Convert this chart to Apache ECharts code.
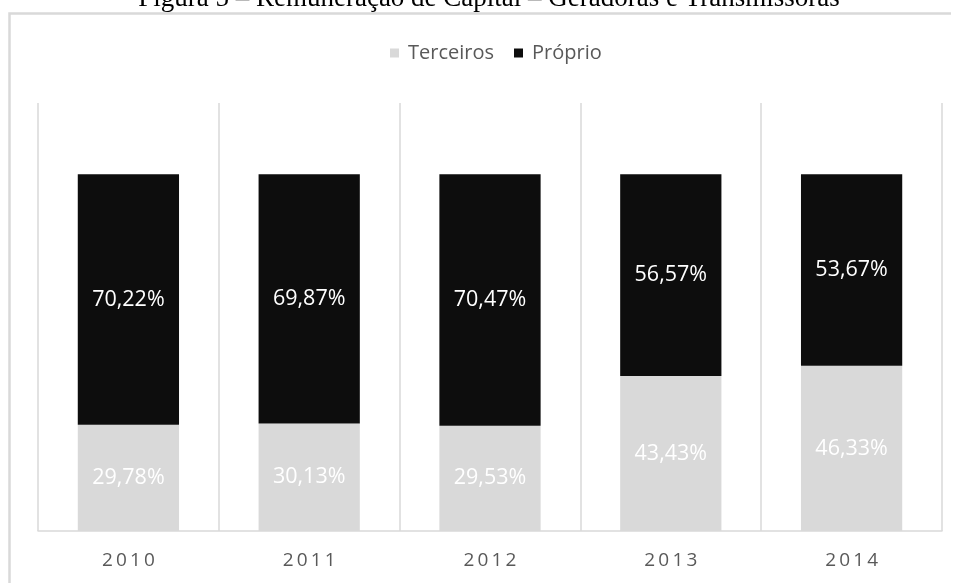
<!DOCTYPE html>
<html>
<head>
<meta charset="utf-8">
<script src="https://cdn.jsdelivr.net/npm/echarts@6/dist/echarts.min.js"></script>
<style>
html,body{margin:0;padding:0;background:#fff;overflow:hidden;}
#chart{width:954px;height:583px;}
</style>
</head>
<body>
<div id="chart"></div>
<script>
const titleText = 'Figura 5 – Remuneração de Capital – Geradoras e Transmissoras';
const categories = ['2010', '2011', '2012', '2013', '2014'];
const seriesNames = ['Terceiros', 'Próprio'];
const terceiros = [29.78, 30.13, 29.53, 43.43, 46.33];
const proprio = [70.22, 69.87, 70.47, 56.57, 53.67];

const fmt = v => v.toFixed(2).replace('.', ',') + '%';
const chart = echarts.init(document.getElementById('chart'));
const labelStyle = {
  show: true, position: 'inside', color: '#ffffff',
  fontFamily: 'Open Sans', fontSize: 21.5,
  formatter: p => fmt(p.value)
};
chart.setOption({
  animation: false,
  backgroundColor: '#ffffff',
  graphic: [
    { type: 'polyline', shape: { points: [[9.5, 583], [9.5, 13.5], [951, 13.5]] },
      style: { stroke: '#d9d9d9', lineWidth: 2.5, fill: null }, z: -10 },
    { type: 'text', x: 489, y: 12,
      style: { text: titleText, fill: '#000', font: '27px "Liberation Serif"',
               textAlign: 'center', textVerticalAlign: 'bottom' } }
  ],
  legend: {
    data: seriesNames,
    left: 385, top: 38,
    icon: 'rect', itemWidth: 9, itemHeight: 9, itemGap: 20,
    textStyle: { color: '#595959', fontFamily: 'Open Sans', fontSize: 20, padding: [0, 0, 0, 4] }
  },
  grid: { left: 38, right: 12, top: 103, bottom: 52, containLabel: false },
  xAxis: {
    type: 'category', data: categories, boundaryGap: true,
    axisLine: { show: true, lineStyle: { color: '#d9d9d9', width: 1.5 } },
    axisTick: { show: false },
    splitLine: { show: true, interval: 0, lineStyle: { color: '#d9d9d9', width: 1.5 } },
    axisLabel: {
      color: '#595959', fontFamily: 'Open Sans', fontSize: 19, margin: 20,
      formatter: v => v.split('').join('\u2009')
    }
  },
  yAxis: {
    type: 'value', min: 0, max: 120, interval: 20, show: false,
    splitLine: { show: false }
  },
  series: [
    { name: seriesNames[0], type: 'bar', stack: 'total', data: terceiros, barWidth: '56%',
      itemStyle: { color: '#d9d9d9' }, label: labelStyle },
    { name: seriesNames[1], type: 'bar', stack: 'total', data: proprio, barWidth: '56%',
      itemStyle: { color: '#0d0d0d' }, label: labelStyle }
  ]
});
</script>
</body>
</html>
